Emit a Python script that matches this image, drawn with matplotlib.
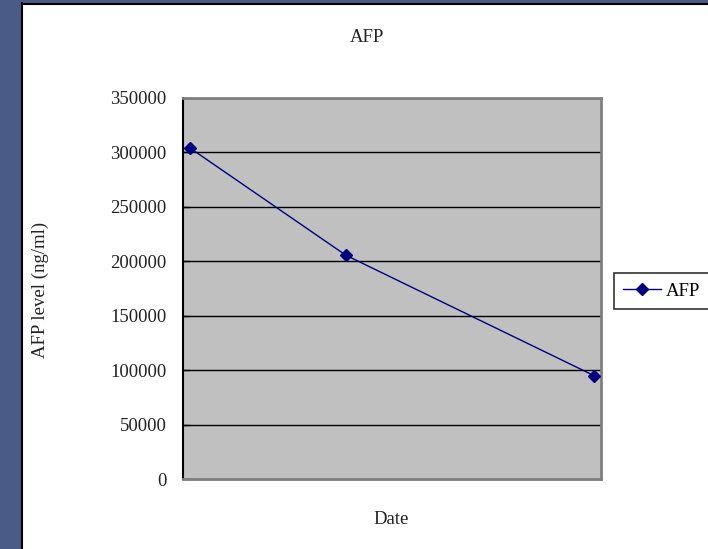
import matplotlib
matplotlib.use("Agg")
import matplotlib.pyplot as plt
from matplotlib.patches import Rectangle
from matplotlib.lines import Line2D

days = [0, 22, 57]
afp_values = [304000, 205500, 95000]
series_name = "AFP"
yticks = [0, 50000, 100000, 150000, 200000, 250000, 300000, 350000]

plt.rcParams['font.family'] = ['Liberation Serif', 'DejaVu Serif']

W, H = 708, 549
fig = plt.figure(figsize=(W / 100, H / 100), dpi=100, facecolor='#4B5B87')

# White chart area with black left/top border
fig.patches.append(Rectangle((21 / W, 0), 1 - 21 / W, 1 - 3 / H, transform=fig.transFigure,
                             facecolor='white', edgecolor='none', zorder=-10))
fig.add_artist(Line2D([21.5 / W, 21.5 / W], [0, 1 - 3 / H], color='black', lw=1.5,
                      transform=fig.transFigure, zorder=-5))
fig.add_artist(Line2D([21.5 / W, 1], [1 - 3.5 / H, 1 - 3.5 / H], color='black', lw=1.5,
                      transform=fig.transFigure, zorder=-5))

left, right, top, bottom = 183, 601, 98, 479
ax = fig.add_axes([left / W, (H - bottom) / H, (right - left) / W, (bottom - top) / H])
ax.set_facecolor('#C0C0C0')

ax.plot(days, afp_values, color='#000080', lw=1.0, marker='D', markersize=6,
        markerfacecolor='#000080', markeredgecolor='#000080', label=series_name, zorder=3)

ax.set_xlim(-1, 58)
ax.set_ylim(0, 350000)
ax.set_yticks(yticks)
ax.set_yticklabels([str(v) for v in yticks], fontsize=13.5, color='#222222')
ax.yaxis.grid(True, color='black', lw=1.0)
ax.set_axisbelow(True)
ax.set_xticks([])
ax.tick_params(axis='y', direction='in', length=5, width=1, color='black', pad=12)

ax.spines['left'].set_color('black')
ax.spines['left'].set_linewidth(1.5)
for s in ['top', 'right', 'bottom']:
    ax.spines[s].set_color('#808080')
    ax.spines[s].set_linewidth(2)

fig.text(367 / W, 1 - 38 / H, 'AFP', ha='center', va='center', fontsize=13.5, color='#222222')
fig.text(391 / W, 1 - 519 / H, 'Date', ha='center', va='center', fontsize=13.5, color='#222222')
fig.text(40 / W, 1 - 290 / H, 'AFP level (ng/ml)', ha='center', va='center',
         rotation=90, fontsize=13.5, color='#222222')

leg = fig.legend(handles=[ax.lines[0]], loc='center left', bbox_to_anchor=(614 / W, 1 - 291 / H),
                 fontsize=13.5, frameon=True, fancybox=False, edgecolor='black',
                 handlelength=2.0, handletextpad=0.25, borderpad=0.5, borderaxespad=0)
leg.get_frame().set_linewidth(1.2)

fig.savefig('out.png', dpi=100, facecolor=fig.get_facecolor())
